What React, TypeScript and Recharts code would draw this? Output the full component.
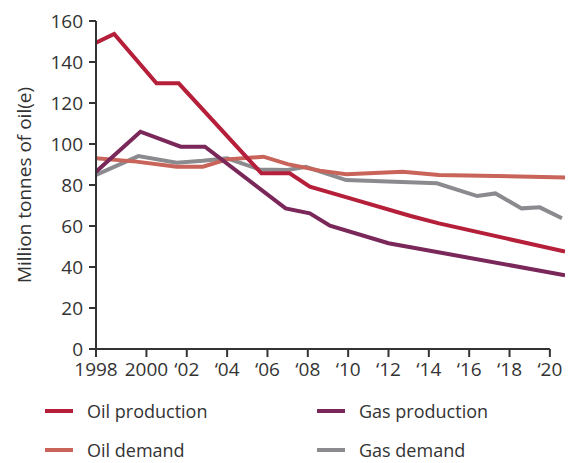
import { LineChart, Line, XAxis, YAxis, ReferenceLine } from 'recharts';

const FONT = '"Open Sans", sans-serif';
const INK = '#333333';

const XTICKS = [1997.5, 2000, 2002, 2004, 2006, 2008, 2010, 2012, 2014, 2016, 2018, 2020];
const XTICK_LABELS = ['1998', '2000', '\u201802', '\u201804', '\u201806', '\u201808', '\u201810', '\u201812', '\u201814', '\u201816', '\u201818', '\u201820'];
const YTICKS = [0, 20, 40, 60, 80, 100, 120, 140, 160];

const OIL_PROD_YEARS = [1997.5, 1998.4, 2000.5, 2001.6, 2005.7, 2007.1, 2008.1, 2010.1, 2013.1, 2014.5, 2020.75];
const OIL_PROD_VALUES = [149.4, 153.7, 129.6, 129.6, 85.7, 85.7, 79.2, 73.5, 64.9, 61.3, 47.5];

const GAS_PROD_YEARS = [1997.5, 1999.7, 2001.7, 2002.9, 2006.9, 2008.1, 2009.1, 2012.0, 2020.75];
const GAS_PROD_VALUES = [86.5, 106, 98.7, 98.7, 68.6, 66.2, 60.2, 51.6, 36];

const OIL_DEMAND_YEARS = [1997.5, 1999.5, 2001.5, 2002.8, 2004.0, 2005.8, 2007.0, 2008.6, 2009.9, 2012.7, 2014.5, 2020.75];
const OIL_DEMAND_VALUES = [93, 91.4, 88.9, 88.9, 92.5, 93.8, 90.2, 87, 85.2, 86.5, 84.9, 83.7];

const GAS_DEMAND_YEARS = [1997.5, 1999.6, 2001.5, 2002.8, 2004.0, 2005.6, 2007.0, 2007.9, 2009.9, 2014.4, 2016.4, 2017.3, 2018.6, 2019.5, 2020.6];
const GAS_DEMAND_VALUES = [84.9, 94.1, 90.9, 91.8, 93, 87.6, 87.3, 88.9, 82.4, 80.8, 74.6, 75.9, 68.6, 69.1, 63.8];

const zip = (years: number[], values: number[]) => years.map((year, i) => ({ year, value: values[i] }));

const SERIES = [
  { name: 'Gas demand', color: '#8b8b8f', data: zip(GAS_DEMAND_YEARS, GAS_DEMAND_VALUES) },
  { name: 'Oil demand', color: '#c8645a', data: zip(OIL_DEMAND_YEARS, OIL_DEMAND_VALUES) },
  { name: 'Gas production', color: '#7a2759', data: zip(GAS_PROD_YEARS, GAS_PROD_VALUES) },
  { name: 'Oil production', color: '#b51f3a', data: zip(OIL_PROD_YEARS, OIL_PROD_VALUES) },
];

const LEGEND_ORDER = ['Oil production', 'Gas production', 'Oil demand', 'Gas demand'];

export default function App() {
  const tick = { fontSize: 19, fill: INK, fontFamily: FONT };
  return (
    <div style={{ position: 'absolute', left: 0, top: 0, width: 568, height: 463, background: '#fff', fontFamily: FONT }}>
      <LineChart width={568} height={390} margin={{ top: 21, right: 3, bottom: 0, left: 0 }}>
        <XAxis
          type="number"
          dataKey="year"
          domain={[1997.5, 2020.75]}
          ticks={XTICKS}
          tickFormatter={(v: number) => XTICK_LABELS[XTICKS.indexOf(v)] ?? ''}
          interval={0}
          height={41}
          axisLine={false}
          tickLine={{ stroke: INK, strokeWidth: 2 }}
          tickSize={8}
          tickMargin={6}
          tick={tick}
          allowDataOverflow
        />
        <YAxis
          type="number"
          domain={[0, 160]}
          ticks={YTICKS}
          interval={0}
          width={96}
          axisLine={{ stroke: INK, strokeWidth: 2 }}
          tickLine={{ stroke: INK, strokeWidth: 2 }}
          tickSize={7}
          tickMargin={6}
          tick={tick}
          label={{
            value: 'Million tonnes of oil(e)',
            angle: -90,
            position: 'insideLeft',
            offset: 24,
            style: { textAnchor: 'middle', fontSize: 19, fill: INK, fontFamily: FONT },
          }}
        />
        <ReferenceLine
          segment={[{ x: 1997.5, y: 0 }, { x: 2020, y: 0 }]}
          stroke={INK}
          strokeWidth={2}
          ifOverflow="visible"
        />
        {SERIES.map(s => (
          <Line
            key={s.name}
            data={s.data}
            dataKey="value"
            name={s.name}
            type="linear"
            stroke={s.color}
            strokeWidth={4}
            dot={false}
            activeDot={false}
            isAnimationActive={false}
          />
        ))}
      </LineChart>
      <div
        style={{
          position: 'absolute',
          left: 45,
          top: 397,
          display: 'grid',
          gridTemplateColumns: '272px 220px',
          rowGap: 11,
          fontSize: 18,
          color: INK,
        }}
      >
        {LEGEND_ORDER.map(name => {
          const s = SERIES.find(x => x.name === name)!;
          return (
            <div key={name} style={{ display: 'flex', alignItems: 'center', height: 28 }}>
              <span style={{ width: 28, height: 4, background: s.color, display: 'inline-block', marginRight: 14 }} />
              {name}
            </div>
          );
        })}
      </div>
    </div>
  );
}
